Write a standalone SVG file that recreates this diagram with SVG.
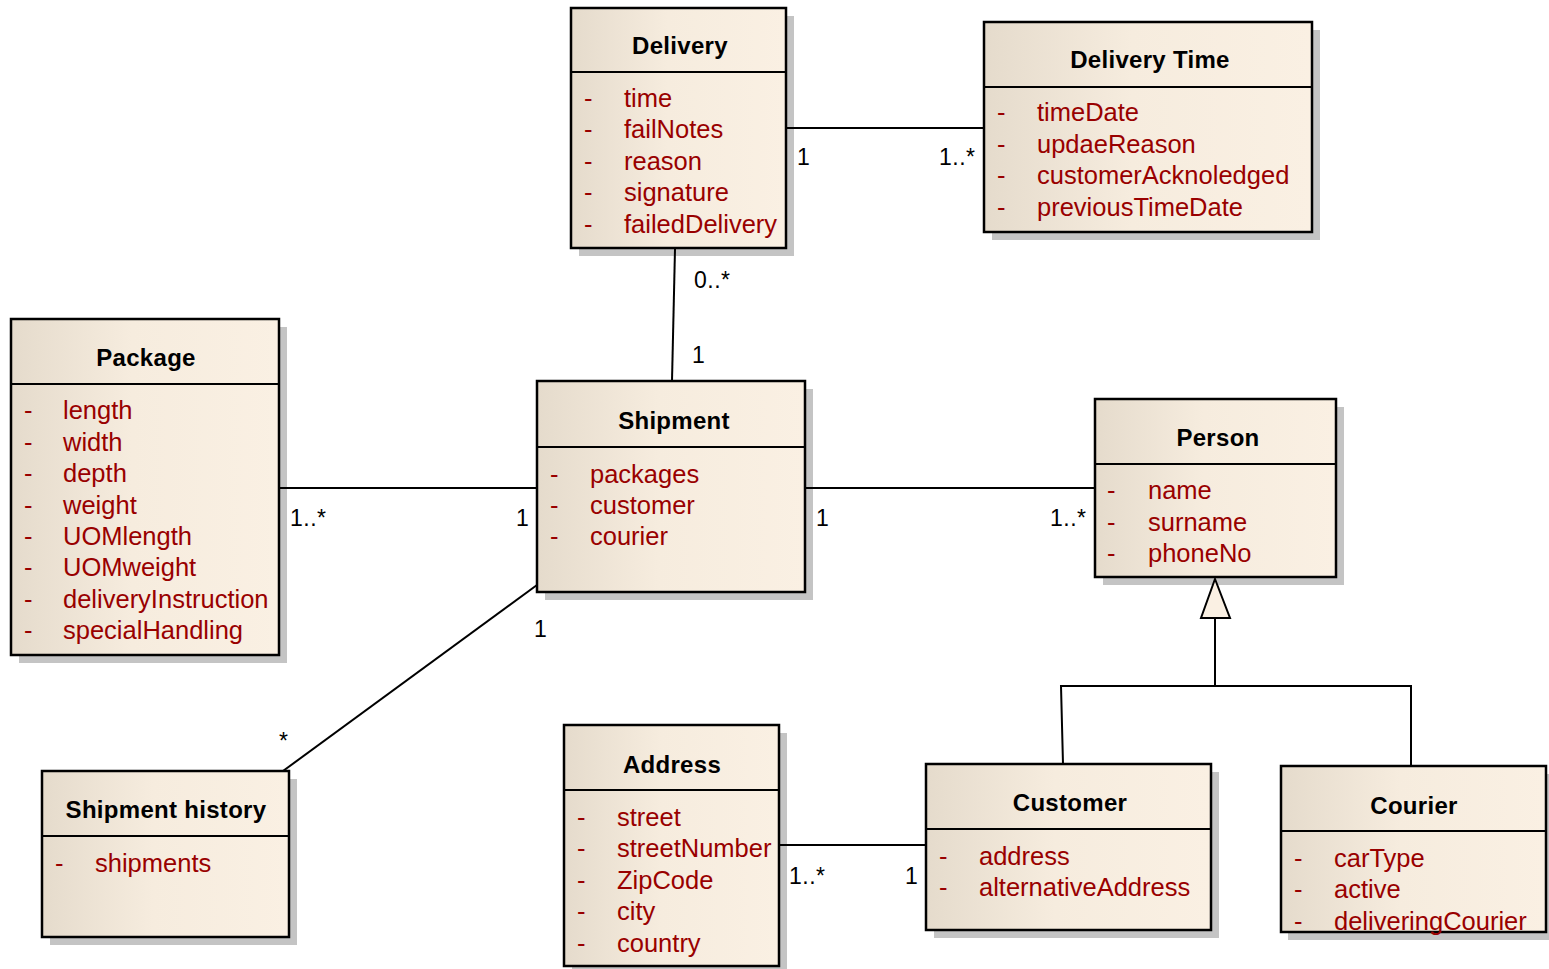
<svg xmlns="http://www.w3.org/2000/svg" width="1549" height="969" viewBox="0 0 1549 969">
<defs>
<linearGradient id="g" x1="0" y1="0" x2="1" y2="0">
<stop offset="0" stop-color="#E5DBCC"/>
<stop offset="0.45" stop-color="#F6ECDE"/>
<stop offset="1" stop-color="#FAF0E3"/>
</linearGradient>
<style>
.sh{fill:#C4C4C4;}
.box{fill:url(#g);stroke:#000;stroke-width:2.5;}
.sep{stroke:#000;stroke-width:2;}
.t{font-family:"Liberation Sans",Arial,sans-serif;font-size:24px;font-weight:bold;fill:#000;text-anchor:middle;letter-spacing:0.3px;}
.a{font-family:"Liberation Sans",Arial,sans-serif;font-size:25.5px;fill:#990000;}
.m{font-family:"Liberation Sans",Arial,sans-serif;font-size:23px;fill:#000;letter-spacing:0.5px;}
.c{stroke:#000;stroke-width:2;fill:none;}
</style>
</defs>
<rect width="1549" height="969" fill="#fff"/>

<g id="delivery">
<rect class="sh" x="579" y="16" width="215" height="240"/>
<rect class="box" x="571" y="8" width="215" height="240"/>
<line class="sep" x1="571" y1="72" x2="786" y2="72"/>
<text class="t" x="680" y="54">Delivery</text>
<text class="a" x="584" y="107">-</text><text class="a" x="624" y="107">time</text>
<text class="a" x="584" y="138">-</text><text class="a" x="624" y="138">failNotes</text>
<text class="a" x="584" y="170">-</text><text class="a" x="624" y="170">reason</text>
<text class="a" x="584" y="201">-</text><text class="a" x="624" y="201">signature</text>
<text class="a" x="584" y="233">-</text><text class="a" x="624" y="233">failedDelivery</text>
</g>

<g id="delivery-time">
<rect class="sh" x="992" y="30" width="328" height="210"/>
<rect class="box" x="984" y="22" width="328" height="210"/>
<line class="sep" x1="984" y1="87" x2="1312" y2="87"/>
<text class="t" x="1150" y="68">Delivery Time</text>
<text class="a" x="997" y="121">-</text><text class="a" x="1037" y="121">timeDate</text>
<text class="a" x="997" y="153">-</text><text class="a" x="1037" y="153">updaeReason</text>
<text class="a" x="997" y="184">-</text><text class="a" x="1037" y="184">customerAcknoledged</text>
<text class="a" x="997" y="216">-</text><text class="a" x="1037" y="216">previousTimeDate</text>
</g>

<g id="package">
<rect class="sh" x="19" y="327" width="268" height="336"/>
<rect class="box" x="11" y="319" width="268" height="336"/>
<line class="sep" x1="11" y1="384" x2="279" y2="384"/>
<text class="t" x="146" y="366">Package</text>
<text class="a" x="24" y="419">-</text><text class="a" x="63" y="419">length</text>
<text class="a" x="24" y="451">-</text><text class="a" x="63" y="451">width</text>
<text class="a" x="24" y="482">-</text><text class="a" x="63" y="482">depth</text>
<text class="a" x="24" y="514">-</text><text class="a" x="63" y="514">weight</text>
<text class="a" x="24" y="545">-</text><text class="a" x="63" y="545">UOMlength</text>
<text class="a" x="24" y="576">-</text><text class="a" x="63" y="576">UOMweight</text>
<text class="a" x="24" y="608">-</text><text class="a" x="63" y="608">deliveryInstruction</text>
<text class="a" x="24" y="639">-</text><text class="a" x="63" y="639">specialHandling</text>
</g>

<g id="shipment">
<rect class="sh" x="545" y="389" width="268" height="211"/>
<rect class="box" x="537" y="381" width="268" height="211"/>
<line class="sep" x1="537" y1="447" x2="805" y2="447"/>
<text class="t" x="674" y="429">Shipment</text>
<text class="a" x="550" y="483">-</text><text class="a" x="590" y="483">packages</text>
<text class="a" x="550" y="514">-</text><text class="a" x="590" y="514">customer</text>
<text class="a" x="550" y="545">-</text><text class="a" x="590" y="545">courier</text>
</g>

<g id="person">
<rect class="sh" x="1103" y="407" width="241" height="178"/>
<rect class="box" x="1095" y="399" width="241" height="178"/>
<line class="sep" x1="1095" y1="464" x2="1336" y2="464"/>
<text class="t" x="1218" y="446">Person</text>
<text class="a" x="1107" y="499">-</text><text class="a" x="1148" y="499">name</text>
<text class="a" x="1107" y="531">-</text><text class="a" x="1148" y="531">surname</text>
<text class="a" x="1107" y="562">-</text><text class="a" x="1148" y="562">phoneNo</text>
</g>

<g id="shipment-history">
<rect class="sh" x="50" y="779" width="247" height="166"/>
<rect class="box" x="42" y="771" width="247" height="166"/>
<line class="sep" x1="42" y1="836" x2="289" y2="836"/>
<text class="t" x="166" y="818">Shipment history</text>
<text class="a" x="55" y="872">-</text><text class="a" x="95" y="872">shipments</text>
</g>

<g id="address">
<rect class="sh" x="572" y="733" width="215" height="241"/>
<rect class="box" x="564" y="725" width="215" height="241"/>
<line class="sep" x1="564" y1="790" x2="779" y2="790"/>
<text class="t" x="672" y="773">Address</text>
<text class="a" x="577" y="826">-</text><text class="a" x="617" y="826">street</text>
<text class="a" x="577" y="857">-</text><text class="a" x="617" y="857">streetNumber</text>
<text class="a" x="577" y="889">-</text><text class="a" x="617" y="889">ZipCode</text>
<text class="a" x="577" y="920">-</text><text class="a" x="617" y="920">city</text>
<text class="a" x="577" y="952">-</text><text class="a" x="617" y="952">country</text>
</g>

<g id="customer">
<rect class="sh" x="934" y="772" width="285" height="166"/>
<rect class="box" x="926" y="764" width="285" height="166"/>
<line class="sep" x1="926" y1="829" x2="1211" y2="829"/>
<text class="t" x="1070" y="811">Customer</text>
<text class="a" x="939" y="865">-</text><text class="a" x="979" y="865">address</text>
<text class="a" x="939" y="896">-</text><text class="a" x="979" y="896">alternativeAddress</text>
</g>

<g id="courier">
<rect class="sh" x="1288" y="774" width="265" height="166"/>
<rect class="box" x="1281" y="766" width="265" height="166"/>
<line class="sep" x1="1281" y1="831" x2="1546" y2="831"/>
<text class="t" x="1414" y="814">Courier</text>
<text class="a" x="1294" y="867">-</text><text class="a" x="1334" y="867">carType</text>
<text class="a" x="1294" y="898">-</text><text class="a" x="1334" y="898">active</text>
<text class="a" x="1294" y="930">-</text><text class="a" x="1334" y="930">deliveringCourier</text>
</g>

<g id="connectors">
<line class="c" x1="787" y1="128" x2="984" y2="128"/>
<text class="m" x="797" y="165">1</text>
<text class="m" x="939" y="165">1..*</text>
<line class="c" x1="675" y1="249" x2="672" y2="381"/>
<text class="m" x="694" y="288">0..*</text>
<text class="m" x="692" y="363">1</text>
<line class="c" x1="280" y1="488" x2="537" y2="488"/>
<text class="m" x="290" y="526">1..*</text>
<text class="m" x="516" y="526">1</text>
<line class="c" x1="806" y1="488" x2="1095" y2="488"/>
<text class="m" x="816" y="526">1</text>
<text class="m" x="1050" y="526">1..*</text>
<line class="c" x1="537" y1="585" x2="283" y2="771"/>
<text class="m" x="534" y="637">1</text>
<text class="m" x="279" y="749">*</text>
<line class="c" x1="780" y1="845" x2="926" y2="845"/>
<text class="m" x="789" y="884">1..*</text>
<text class="m" x="905" y="884">1</text>
<polyline class="c" points="1063,764 1061,686 1411,686 1411,766"/>
<line class="c" x1="1215" y1="686" x2="1215" y2="618"/>
<polygon points="1215,579 1201,618 1230,618" fill="#FAF0E3" stroke="#000" stroke-width="2"/>
</g>
</svg>
